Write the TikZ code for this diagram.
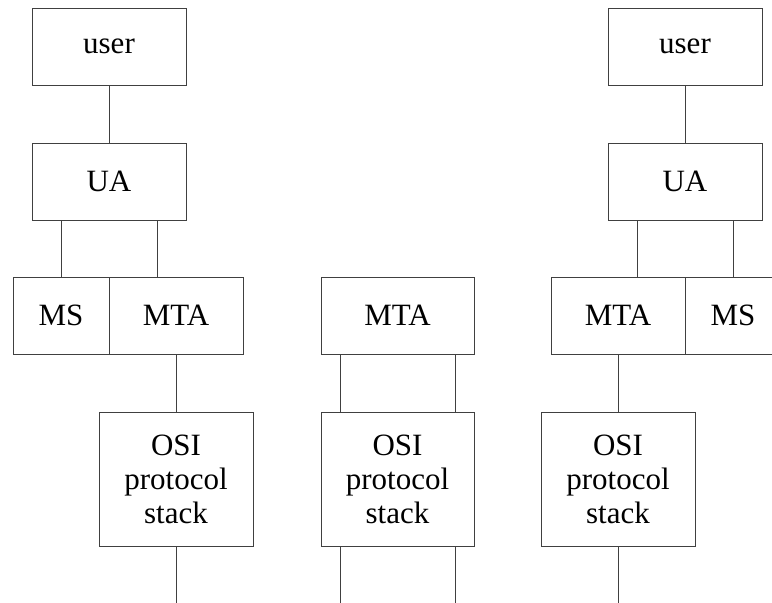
\documentclass[tikz,border=0pt]{standalone}
\usepackage{fontspec}
\setmainfont{Liberation Serif}
\begin{document}
\begin{tikzpicture}[x=1pt,y=-1pt,
  blk/.style={draw=black!75,line width=1pt,rectangle,inner sep=0pt,align=center,
    font=\fontsize{31}{34}\selectfont},
  conn/.style={draw=black!75,line width=1pt}]
\useasboundingbox (0,0) rectangle (772,603);
\clip (0,0) rectangle (772,603);
% left column
\node[blk,minimum width=154pt,minimum height=77pt] (user1) at (109,46.5) {user};
\node[blk,minimum width=154pt,minimum height=77pt] (ua1) at (109,181.5) {UA};
\node[blk,minimum width=96pt,minimum height=77pt] (ms1) at (61,315.5) {MS};
\node[blk,minimum width=134pt,minimum height=77pt] (mta1) at (176,315.5) {MTA};
\node[blk,minimum width=154pt,minimum height=134pt] (osi1) at (176,479) {OSI\\protocol\\stack};
\coordinate (end1) at (176,610);
\draw[conn] (user1) -- (ua1);
\draw[conn] ([xshift=-48pt]ua1.south) -- ([xshift=-48pt]ua1.south |- mta1.north);
\draw[conn] ([xshift=48pt]ua1.south) -- ([xshift=48pt]ua1.south |- mta1.north);
\draw[conn] (mta1.south) -- (osi1.north);
\draw[conn] (osi1.south) -- (end1);
% middle column
\node[blk,minimum width=153pt,minimum height=77pt] (mta2) at (397.5,315.5) {MTA};
\node[blk,minimum width=153pt,minimum height=134pt] (osi2) at (397.5,479) {OSI\\protocol\\stack};
\coordinate (end2a) at (340,610);
\coordinate (end2b) at (455,610);
\draw[conn] ([xshift=-57.5pt]mta2.south) -- ([xshift=-57.5pt]osi2.north);
\draw[conn] ([xshift=57.5pt]mta2.south) -- ([xshift=57.5pt]osi2.north);
\draw[conn] ([xshift=-57.5pt]osi2.south) -- (end2a);
\draw[conn] ([xshift=57.5pt]osi2.south) -- (end2b);
% right column
\node[blk,minimum width=154pt,minimum height=77pt] (user3) at (685,46.5) {user};
\node[blk,minimum width=154pt,minimum height=77pt] (ua3) at (685,181.5) {UA};
\node[blk,minimum width=134pt,minimum height=77pt] (mta3) at (618,315.5) {MTA};
\node[blk,minimum width=96pt,minimum height=77pt] (ms3) at (733,315.5) {MS};
\node[blk,minimum width=154pt,minimum height=134pt] (osi3) at (618,479) {OSI\\protocol\\stack};
\coordinate (end3) at (618,610);
\draw[conn] (user3) -- (ua3);
\draw[conn] ([xshift=-48pt]ua3.south) -- ([xshift=-48pt]ua3.south |- mta3.north);
\draw[conn] ([xshift=48pt]ua3.south) -- ([xshift=48pt]ua3.south |- ms3.north);
\draw[conn] (mta3.south) -- (osi3.north);
\draw[conn] (osi3.south) -- (end3);
\end{tikzpicture}
\end{document}
